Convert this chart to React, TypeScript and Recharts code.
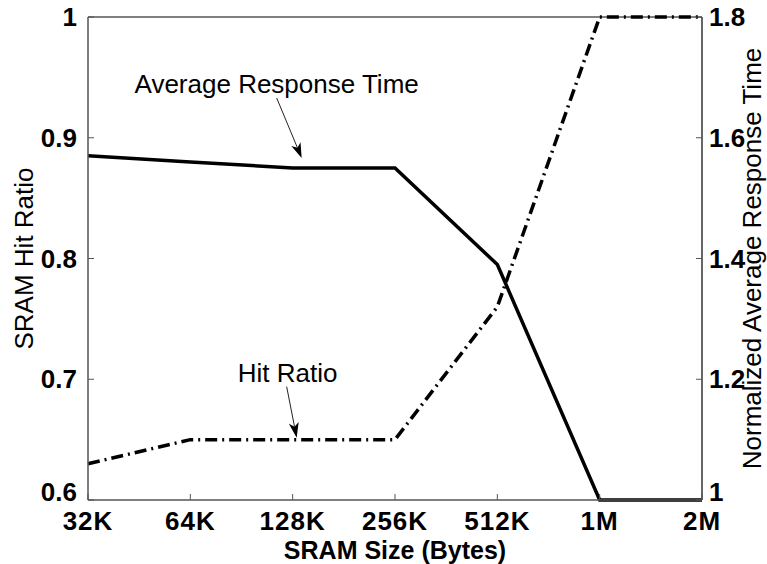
import {
  Line,
  LineChart,
  ReferenceDot,
  ReferenceLine,
  XAxis,
  YAxis,
} from 'recharts';

const sizes = ['32K', '64K', '128K', '256K', '512K', '1M', '2M'];
const hitRatio = [0.63, 0.65, 0.65, 0.65, 0.76, 1.0, 1.0];
const avgResponse = [1.57, 1.56, 1.55, 1.55, 1.39, 1.0, 1.0];
const hitTicks = [0.6, 0.7, 0.8, 0.9, 1];
const responseTicks = [1, 1.2, 1.4, 1.6, 1.8];

const FONT = '"Liberation Sans", Arial, sans-serif';
const AXIS = '#555';

const chartData = sizes.map((size, i) => ({
  size,
  hit: hitRatio[i],
  resp: avgResponse[i],
}));

// eslint-disable-next-line @typescript-eslint/no-explicit-any
function BottomTick(props: any) {
  const { x, y, payload } = props;
  return (
    <g>
      <line x1={x} y1={y} x2={x} y2={y - 6} stroke={AXIS} strokeWidth={1} />
      <text
        x={x}
        y={y + 30}
        textAnchor="middle"
        fontFamily={FONT}
        fontWeight="bold"
        fontSize={26}
        letterSpacing={1}
        fill="#000"
      >
        {payload.value}
      </text>
    </g>
  );
}

// eslint-disable-next-line @typescript-eslint/no-explicit-any
function LeftTick(props: any) {
  const { x, y, payload } = props;
  // lowest label lifted so it clears the "32K" tick label
  const lift = payload.value === hitTicks[0] ? -8 : 0;
  return (
    <g>
      <line x1={x} y1={y} x2={x + 6} y2={y} stroke={AXIS} strokeWidth={1} />
      <text
        x={x - 11}
        y={y + 9 + lift}
        textAnchor="end"
        fontFamily={FONT}
        fontWeight="bold"
        fontSize={26}
        fill="#000"
      >
        {String(payload.value)}
      </text>
    </g>
  );
}

// eslint-disable-next-line @typescript-eslint/no-explicit-any
function RightTick(props: any) {
  const { x, y, payload } = props;
  // lowest label lifted so it clears the "2M" tick label
  const lift = payload.value === responseTicks[0] ? -8 : 0;
  return (
    <g>
      <line x1={x} y1={y} x2={x - 6} y2={y} stroke={AXIS} strokeWidth={1} />
      <text
        x={x + 7}
        y={y + 9 + lift}
        textAnchor="start"
        fontFamily={FONT}
        fontWeight="bold"
        fontSize={26}
        fill="#000"
      >
        {String(payload.value)}
      </text>
    </g>
  );
}

interface CalloutProps {
  cx: number;
  cy: number;
  text: string;
  textDx: number;
  textDy: number;
  tail: [number, number];
  tip: [number, number];
}

function Callout({ cx, cy, text, textDx, textDy, tail, tip }: CalloutProps) {
  if (cx == null || cy == null) return null;
  const tx = cx + tail[0];
  const ty = cy + tail[1];
  const px = cx + tip[0];
  const py = cy + tip[1];
  const len = Math.hypot(px - tx, py - ty);
  const dx = (px - tx) / len;
  const dy = (py - ty) / len;
  const headLen = 15;
  const headHalf = 5;
  const bx = px - dx * headLen;
  const by = py - dy * headLen;
  const nx = bx + dx * 4;
  const ny = by + dy * 4;
  const points = [
    `${px},${py}`,
    `${bx - dy * headHalf},${by + dx * headHalf}`,
    `${nx},${ny}`,
    `${bx + dy * headHalf},${by - dx * headHalf}`,
  ].join(' ');
  return (
    <g>
      <text
        x={cx + textDx}
        y={cy + textDy}
        textAnchor="middle"
        fontFamily={FONT}
        fontSize={26}
        fill="#000"
      >
        {text}
      </text>
      <line x1={tx} y1={ty} x2={nx} y2={ny} stroke="#222" strokeWidth={1} />
      <polygon points={points} fill="#000" />
    </g>
  );
}

// eslint-disable-next-line @typescript-eslint/no-explicit-any
function LeftLabel(props: any) {
  const { viewBox } = props;
  const cy = viewBox.y + viewBox.height / 2;
  return (
    <text
      transform={`translate(33, ${cy}) rotate(-90)`}
      textAnchor="middle"
      fontFamily={FONT}
      fontSize={26}
      fill="#000"
    >
      SRAM Hit Ratio
    </text>
  );
}

// eslint-disable-next-line @typescript-eslint/no-explicit-any
function RightLabel(props: any) {
  const { viewBox } = props;
  const cy = viewBox.y + viewBox.height / 2;
  return (
    <text
      transform={`translate(761, ${cy}) rotate(-90)`}
      textAnchor="middle"
      fontFamily={FONT}
      fontSize={26}
      fill="#000"
    >
      Normalized Average Response Time
    </text>
  );
}

// eslint-disable-next-line @typescript-eslint/no-explicit-any
function BottomLabel(props: any) {
  const { viewBox } = props;
  const cx = viewBox.x + viewBox.width / 2;
  return (
    <text
      x={cx}
      y={558.5}
      textAnchor="middle"
      fontFamily={FONT}
      fontWeight="bold"
      fontSize={25}
      fill="#000"
    >
      SRAM Size (Bytes)
    </text>
  );
}

export default function App() {
  return (
    <div style={{ position: 'absolute', left: 0, top: 0, background: '#fff' }}>
      <LineChart
        width={767}
        height={564}
        data={chartData}
        margin={{ top: 17, right: 0, bottom: 0, left: 0 }}
      >
        <XAxis
          dataKey="size"
          height={64}
          interval={0}
          tickSize={0}
          tickMargin={0}
          tickLine={false}
          axisLine={{ stroke: AXIS, strokeWidth: 1.5 }}
          tick={BottomTick}
          label={<BottomLabel />}
        />
        <YAxis
          yAxisId="left"
          width={88}
          domain={[0.6, 1]}
          ticks={hitTicks}
          interval={0}
          tickSize={0}
          tickMargin={0}
          tickLine={false}
          axisLine={{ stroke: AXIS, strokeWidth: 1.5 }}
          tick={LeftTick}
          label={<LeftLabel />}
        />
        <YAxis
          yAxisId="right"
          orientation="right"
          width={65}
          domain={[1, 1.8]}
          ticks={responseTicks}
          interval={0}
          tickSize={0}
          tickMargin={0}
          tickLine={false}
          axisLine={{ stroke: '#333', strokeWidth: 1.5 }}
          tick={RightTick}
          label={<RightLabel />}
        />
        <ReferenceLine yAxisId="left" y={1} stroke={AXIS} strokeWidth={1.5} />
        <Line
          yAxisId="right"
          dataKey="resp"
          type="linear"
          stroke="#000"
          strokeWidth={3.5}
          dot={false}
          isAnimationActive={false}
        />
        <Line
          yAxisId="left"
          dataKey="hit"
          type="linear"
          stroke="#000"
          strokeWidth={3.5}
          strokeDasharray="12 5 2 5"
          dot={false}
          isAnimationActive={false}
        />
        <ReferenceDot
          yAxisId="right"
          x="128K"
          y={avgResponse[2]}
          r={0}
          // eslint-disable-next-line @typescript-eslint/no-explicit-any
          shape={(p: any) => (
            <Callout
              cx={p.cx}
              cy={p.cy}
              text="Average Response Time"
              textDx={-16}
              textDy={-75}
              tail={[-16, -70]}
              tip={[9, -10]}
            />
          )}
        />
        <ReferenceDot
          yAxisId="left"
          x="128K"
          y={hitRatio[2]}
          r={0}
          // eslint-disable-next-line @typescript-eslint/no-explicit-any
          shape={(p: any) => (
            <Callout
              cx={p.cx}
              cy={p.cy}
              text="Hit Ratio"
              textDx={-5}
              textDy={-58}
              tail={[-6, -53]}
              tip={[4, -2]}
            />
          )}
        />
      </LineChart>
    </div>
  );
}
